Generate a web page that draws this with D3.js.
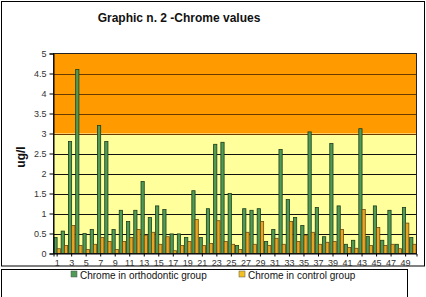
<!DOCTYPE html>
<html><head><meta charset="utf-8">
<script src="https://cdn.jsdelivr.net/npm/d3@7/dist/d3.min.js"></script>
<style>body{margin:0;background:#fff}svg{display:block}</style>
</head><body>
<script>
const categories = d3.range(1, 51).map(String);
const orthodontic = [0.40,0.56,2.80,4.60,0.50,0.60,3.20,2.80,0.60,1.08,
                     0.80,1.08,1.80,0.90,1.19,1.10,0.49,0.49,0.40,1.57,
                     0.40,1.12,2.73,2.78,1.50,0.20,1.12,1.08,1.12,0.30,
                     0.60,2.60,1.35,0.90,0.70,3.04,1.15,0.42,2.75,1.19,
                     0.23,0.33,3.12,0.43,1.19,0.33,1.08,0.23,1.15,0.40];
const control =     [0.12,0.20,0.70,0.20,0.10,0.23,0.40,0.30,0.10,0.30,
                     0.40,0.60,0.46,0.53,0.23,0.42,0.07,0.20,0.30,0.85,
                     0.20,0.25,0.82,0.30,0.23,0.10,0.53,0.23,0.80,0.20,
                     0.38,0.23,0.80,0.30,0.46,0.53,0.23,0.28,0.30,0.60,
                     0.15,0.13,1.10,0.20,0.65,0.20,0.23,0.12,0.76,0.23];
const yTicks = [0,0.5,1,1.5,2,2.5,3,3.5,4,4.5,5];
const xTickLabels = categories.filter((d,i)=>i%2===0);
const seriesNames = ["Chrome in orthodontic group","Chrome in control group"];
const bands = [{from:0,to:3,color:"#ffff9c"},{from:3,to:5,color:"#ff9a00"}];

const W=426,H=297;
const svg=d3.select("body").append("svg").attr("width",W).attr("height",H);
const font="Liberation Sans, Arial, sans-serif";

// outer chart border
svg.append("rect").attr("x",1.5).attr("y",1.5).attr("width",423).attr("height",264.5)
  .attr("fill","#fff").attr("stroke","#000").attr("stroke-width",1);

const L=53.5,R=416.5,T=53.5,B=253.5;
const x=d3.scaleBand().domain(categories).range([L,R]);
const xs=d3.scaleBand().domain([0,1]).range([0,x.bandwidth()]).paddingOuter(0.12);
const y=d3.scaleLinear().domain([0,5]).range([B,T]);

// bands
svg.selectAll("rect.band").data(bands).join("rect").attr("class","band")
  .attr("x",L).attr("width",R-L).attr("y",d=>y(d.to)).attr("height",d=>y(d.from)-y(d.to))
  .attr("fill",d=>d.color);

// gridlines
svg.append("g").selectAll("line").data(yTicks.filter(d=>d>0&&d<5)).join("line")
  .attr("x1",L).attr("x2",R).attr("y1",d=>Math.round(y(d))+0.5).attr("y2",d=>Math.round(y(d))+0.5)
  .attr("stroke",d=>d>=3?"#6a3a00":"#111").attr("stroke-width",1);

// bars
const g=svg.append("g");
g.selectAll("rect.o").data(orthodontic).join("rect").attr("class","o")
  .attr("x",(d,i)=>x(categories[i])+xs(0)).attr("width",xs.bandwidth())
  .attr("y",d=>y(d)).attr("height",d=>y(0)-y(d))
  .attr("fill","#4f9a55").attr("stroke","#1c3d1c").attr("stroke-width",0.8);
g.selectAll("rect.c").data(control).join("rect").attr("class","c")
  .attr("x",(d,i)=>x(categories[i])+xs(1)).attr("width",xs.bandwidth())
  .attr("y",d=>y(d)).attr("height",d=>y(0)-y(d))
  .attr("fill","#e8a522").attr("stroke","#6b4a10").attr("stroke-width",0.8);

// plot border
svg.append("rect").attr("x",L).attr("y",T).attr("width",R-L).attr("height",B-T)
  .attr("fill","none").attr("stroke","#222").attr("stroke-width",1);

// y axis
const ya=svg.append("g").attr("transform",`translate(${L},0)`)
  .call(d3.axisLeft(y).tickValues(yTicks).tickSize(4).tickPadding(3).tickFormat(d3.format("")));
ya.select(".domain").attr("stroke","#000");
ya.selectAll("text").attr("font-family",font).attr("font-size",9).attr("fill","#333");

// x axis
const xa=svg.append("g").attr("transform",`translate(0,${B})`)
  .call(d3.axisBottom(x).tickValues(xTickLabels).tickSize(3).tickPadding(3));
xa.select(".domain").attr("stroke","#000");
xa.selectAll("text").attr("font-family",font).attr("font-size",9).attr("fill","#333");

// title
svg.append("text").attr("x",179).attr("y",22).attr("text-anchor","middle")
  .attr("font-family",font).attr("font-weight","bold").attr("font-size",12).attr("fill","#111")
  .text("Graphic n. 2 -Chrome values");
// y title
svg.append("text").attr("transform","translate(25,157) rotate(-90)").attr("text-anchor","middle")
  .attr("font-family",font).attr("font-weight","bold").attr("font-size",12).attr("fill","#111")
  .text("ug/l");

// legend
svg.append("rect").attr("x",1.5).attr("y",269.5).attr("width",406).attr("height",30)
  .attr("fill","#fff").attr("stroke","#000");
const leg=[{name:seriesNames[0],color:"#4f9a55",x:71},{name:seriesNames[1],color:"#f3c020",x:239}];
const lg=svg.append("g").selectAll("g").data(leg).join("g").attr("transform",d=>`translate(${d.x},271)`);
lg.append("rect").attr("width",6).attr("height",6).attr("fill",d=>d.color).attr("stroke","#555").attr("stroke-width",0.5);
lg.append("text").attr("x",9).attr("y",7.5).attr("font-family",font).attr("font-size",10).attr("fill","#111").text(d=>d.name);
</script>
</body></html>
